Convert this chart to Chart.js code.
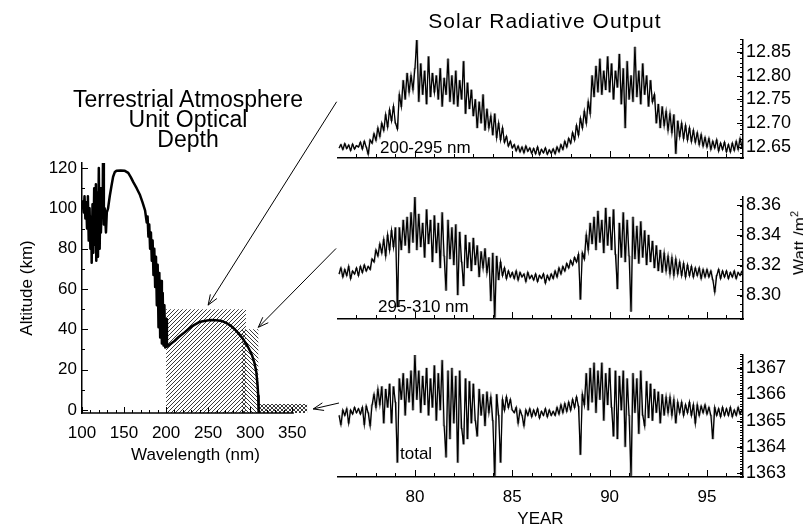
<!DOCTYPE html>
<html>
<head>
<meta charset="utf-8">
<script src="https://cdn.jsdelivr.net/npm/chart.js@4.4.0/dist/chart.umd.min.js"></script>
<style>
  body { margin: 0; background: #fff; }
  #wrap { position: relative; width: 803px; height: 525px; overflow: hidden;
          font-family: 'Liberation Sans', Arial, sans-serif; color: #000; }
  canvas { position: absolute; left: 0; top: 0; }
  .lbl { position: absolute; white-space: nowrap; }
</style>
</head>
<body>
<div id="wrap">
  <canvas id="cLeft" width="803" height="525"></canvas>
  <canvas id="cP1" width="803" height="525"></canvas>
  <canvas id="cP2" width="803" height="525"></canvas>
  <canvas id="cP3" width="803" height="525"></canvas>
  <canvas id="cArrows" width="803" height="525"></canvas>

  <div class="lbl" style="left:545px;top:10px;font-size:21px;line-height:21px;letter-spacing:1px;transform:translateX(-50%)">Solar Radiative Output</div>
  <div class="lbl" style="left:188px;top:89px;font-size:23px;line-height:20px;text-align:center;transform:translateX(-50%)">Terrestrial Atmosphere<br>Unit Optical<br>Depth</div>
  <div class="lbl" style="left:380px;top:139px;font-size:17px;line-height:17px">200-295 nm</div>
  <div class="lbl" style="left:378px;top:298px;font-size:17px;line-height:17px">295-310 nm</div>
  <div class="lbl" style="left:400px;top:445px;font-size:17px;line-height:17px">total</div>
  <div class="lbl" style="left:797px;top:243px;font-size:17px;line-height:17px;transform:translate(-50%,-50%) rotate(-90deg)">Watt /m<sup style="font-size:11px">2</sup></div>
</div>

<script>
// ---------------- data ----------------
var WAVE_TICKS = [100, 150, 200, 250, 300, 350];
var ALT_TICKS = [0, 20, 40, 60, 80, 100, 120];
var YEAR_TICKS = [80, 85, 90, 95];
var UV1_TICKS = [12.65, 12.70, 12.75, 12.80, 12.85];
var UV2_TICKS = [8.30, 8.32, 8.34, 8.36];
var TSI_TICKS = [1363, 1364, 1365, 1366, 1367];

// altitude of unit optical depth vs wavelength
var WAVE_NM = [100.5, 102, 103, 104, 105, 106, 107, 108, 109, 110, 111, 111.5, 112.5, 113.5, 114.5, 115.5,
  116.5, 117, 118, 119, 120, 121, 122, 122.5, 123.5, 124.5, 125, 126, 127, 128.5, 129.5,
  131, 133, 135, 137, 139, 141, 146, 151, 155, 158, 161, 165, 169, 172, 175,
  176, 177, 178, 179, 180, 181, 182, 183, 184, 185, 186, 187, 188, 189, 190, 191, 192, 193,
  194, 195, 196, 197, 198, 199, 200, 201,
  204, 210, 215, 220.6, 230, 240.5, 252.4, 260, 266.4, 271, 276.3, 281, 286.2, 291, 296.2,
  299, 302.1, 305, 307.3, 308.8, 309.6, 310, 310.2];
var ALT_KM = [104, 98, 106, 95, 103, 90, 106, 84, 100, 80, 96, 73, 102, 78, 110, 82,
  112, 74, 108, 76, 120, 80, 110, 88, 104, 96, 127, 92, 100, 88, 98,
  100, 106, 111, 115.7, 118, 118.6, 118.8, 118.6, 117.6, 115.5, 113, 110, 106.6, 103, 99,
  99, 93, 96, 86, 92, 80, 88, 74, 84, 67, 80, 61, 76, 52, 72, 41, 68, 36,
  64, 33, 58, 32, 52, 31, 45, 31.4,
  32.3, 34.2, 36.2, 38, 41.3, 43.8, 44.6, 44.5, 44.1, 43.3, 42, 40.3, 38, 35.5, 32.2,
  30, 27.3, 23.5, 19, 12.4, 7, 3.3, -1.5];

// hatched bands: [from nm, to nm, top km]
var BAND_UV1 = [200, 295, 50];
var BAND_UV2 = [290, 310, 40];
var BAND_TOTAL = [310, 368, 3];

// series sampled every 0.1 yr from 76.1
var YEAR_START = 76.1, YEAR_STEP = 0.1;

var UV1 = [
  12.648, 12.655, 12.645, 12.657, 12.647, 12.654, 12.643, 12.656, 12.646, 12.653,
  12.650, 12.660, 12.646, 12.662, 12.650, 12.635, 12.665, 12.658, 12.678, 12.664,
  12.690, 12.672, 12.700, 12.685, 12.718, 12.692, 12.728, 12.705, 12.735, 12.700,
  12.688, 12.760, 12.735, 12.790, 12.750, 12.805, 12.765, 12.800, 12.770, 12.815,
  12.878, 12.745, 12.825, 12.760, 12.810, 12.740, 12.840, 12.755, 12.805, 12.765,
  12.800, 12.750, 12.815, 12.735, 12.795, 12.760, 12.835, 12.745, 12.800, 12.740,
  12.810, 12.735, 12.790, 12.750, 12.830, 12.720, 12.785, 12.730, 12.770, 12.715,
  12.750, 12.690, 12.745, 12.700, 12.760, 12.685, 12.730, 12.690, 12.715, 12.675,
  12.720, 12.670, 12.700, 12.665, 12.690, 12.660, 12.672, 12.652, 12.662, 12.648,
  12.655, 12.642, 12.652, 12.640, 12.650, 12.638, 12.652, 12.641, 12.648, 12.637,
  12.647, 12.636, 12.650, 12.634, 12.645, 12.638, 12.648, 12.635, 12.644, 12.637,
  12.646, 12.636, 12.650, 12.640, 12.655, 12.645, 12.662, 12.650, 12.668, 12.658,
  12.680, 12.665, 12.695, 12.675, 12.710, 12.690, 12.725, 12.700, 12.745, 12.720,
  12.800, 12.755, 12.820, 12.765, 12.835, 12.760, 12.810, 12.770, 12.840, 12.765,
  12.825, 12.750, 12.810, 12.775, 12.845, 12.740, 12.815, 12.690, 12.830, 12.750,
  12.800, 12.745, 12.860, 12.755, 12.810, 12.740, 12.825, 12.760, 12.800, 12.735,
  12.790, 12.745, 12.760, 12.700, 12.740, 12.690, 12.735, 12.695, 12.725, 12.685,
  12.720, 12.680, 12.718, 12.636, 12.705, 12.672, 12.700, 12.668, 12.695, 12.665,
  12.690, 12.662, 12.685, 12.660, 12.680, 12.655, 12.676, 12.652, 12.670, 12.650,
  12.668, 12.645, 12.662, 12.648, 12.665, 12.642, 12.658, 12.645, 12.660, 12.640,
  12.655, 12.640, 12.658, 12.643, 12.662, 12.645, 12.668, 12.650
];

var UV2 = [
  8.314, 8.318, 8.312, 8.317, 8.313, 8.319, 8.311, 8.316, 8.314, 8.318,
  8.313, 8.319, 8.315, 8.320, 8.316, 8.319, 8.317, 8.324, 8.322, 8.330,
  8.326, 8.334, 8.328, 8.337, 8.326, 8.340, 8.330, 8.343, 8.332, 8.345,
  8.292, 8.345, 8.330, 8.350, 8.333, 8.352, 8.328, 8.355, 8.335, 8.366,
  8.330, 8.354, 8.332, 8.348, 8.325, 8.357, 8.334, 8.350, 8.322, 8.353,
  8.328, 8.348, 8.318, 8.355, 8.326, 8.303, 8.350, 8.324, 8.345, 8.320,
  8.347, 8.300, 8.342, 8.322, 8.306, 8.340, 8.318, 8.335, 8.316, 8.338,
  8.320, 8.333, 8.312, 8.329, 8.318, 8.331, 8.315, 8.325, 8.296, 8.328,
  8.285, 8.326, 8.310, 8.322, 8.313, 8.318, 8.311, 8.316, 8.312, 8.315,
  8.311, 8.316, 8.310, 8.315, 8.312, 8.314, 8.309, 8.315, 8.311, 8.313,
  8.310, 8.314, 8.309, 8.313, 8.311, 8.314, 8.308, 8.313, 8.310, 8.314,
  8.311, 8.316, 8.312, 8.318, 8.314, 8.319, 8.316, 8.321, 8.318, 8.323,
  8.320, 8.325, 8.322, 8.327, 8.297, 8.328, 8.324, 8.340, 8.330, 8.348,
  8.334, 8.352, 8.330, 8.356, 8.335, 8.350, 8.328, 8.358, 8.333, 8.352,
  8.330, 8.357, 8.327, 8.304, 8.348, 8.325, 8.355, 8.322, 8.350, 8.326,
  8.289, 8.352, 8.324, 8.346, 8.321, 8.349, 8.325, 8.343, 8.320, 8.340,
  8.322, 8.336, 8.318, 8.333, 8.316, 8.330, 8.315, 8.328, 8.316, 8.326,
  8.314, 8.325, 8.313, 8.324, 8.314, 8.322, 8.313, 8.321, 8.312, 8.320,
  8.313, 8.319, 8.312, 8.318, 8.313, 8.318, 8.311, 8.317, 8.312, 8.317,
  8.312, 8.316, 8.310, 8.302, 8.313, 8.317, 8.311, 8.316, 8.312, 8.316,
  8.311, 8.315, 8.312, 8.316, 8.311, 8.315, 8.313, 8.316
];

var TSI = [
  1365.2, 1364.85, 1365.4, 1365.2, 1365.45, 1364.9, 1365.4, 1365.25, 1365.5, 1365.3,
  1365.45, 1365.25, 1365.5, 1364.85, 1365.55, 1365.3, 1364.8, 1365.6, 1366.0, 1365.5,
  1366.2, 1365.6, 1366.3, 1364.9, 1366.2, 1365.5, 1366.4, 1364.9, 1366.3, 1365.7,
  1363.4, 1366.6, 1365.8, 1366.8, 1365.2, 1366.6, 1365.7, 1366.9, 1365.4, 1367.5,
  1365.8, 1366.9, 1365.3, 1366.7, 1365.6, 1367.0, 1365.2, 1366.6, 1365.5, 1367.1,
  1365.0, 1366.8, 1365.4, 1367.3, 1364.8, 1363.6, 1366.9, 1364.3, 1367.0, 1364.9,
  1366.7, 1363.4, 1366.9, 1364.7, 1364.1, 1366.6, 1364.3, 1366.5, 1364.9, 1366.4,
  1365.0, 1364.4, 1366.2, 1365.2, 1366.0, 1364.8, 1366.1, 1365.3, 1365.9, 1365.0,
  1362.9, 1366.0, 1365.2, 1363.4, 1365.8, 1365.4, 1365.9, 1365.5, 1365.8, 1365.4,
  1365.3, 1365.5, 1364.9, 1365.4, 1365.2, 1364.8, 1365.4, 1365.2, 1365.45, 1365.15,
  1365.4, 1365.2, 1365.45, 1365.1, 1365.35, 1365.2, 1365.45, 1365.15, 1365.4, 1365.2,
  1365.35, 1365.2, 1365.5, 1365.25, 1365.6, 1365.3, 1365.65, 1365.35, 1365.7, 1365.4,
  1365.8, 1365.5, 1365.9, 1365.55, 1363.7, 1366.0, 1365.6, 1366.8, 1365.4, 1367.0,
  1365.7, 1367.2, 1365.3, 1366.9, 1365.8, 1367.2, 1365.0, 1366.8, 1365.6, 1367.0,
  1365.5, 1364.4, 1366.9, 1364.3, 1366.7, 1365.4, 1366.9, 1364.0, 1366.6, 1365.2,
  1362.9, 1366.8, 1365.3, 1366.6, 1364.5, 1366.9, 1365.2, 1364.8, 1366.5, 1365.1,
  1366.4, 1365.0, 1366.2, 1365.3, 1366.1, 1364.9, 1366.0, 1365.2, 1365.9, 1365.3,
  1365.9, 1365.2, 1365.8, 1364.9, 1365.7, 1365.3, 1365.7, 1365.2, 1365.6, 1365.3,
  1365.7, 1365.2, 1365.6, 1364.9, 1365.6, 1365.2, 1365.55, 1365.3, 1365.6, 1365.25,
  1365.5, 1365.2, 1364.3, 1365.5, 1365.2, 1365.45, 1365.15, 1365.5, 1365.2, 1365.45,
  1365.2, 1365.5, 1365.15, 1365.4, 1365.2, 1365.5, 1365.25, 1365.4
];

// ---------------- helpers ----------------
Chart.defaults.font.family = "'Liberation Sans', Arial, sans-serif";
Chart.defaults.font.size = 17;
Chart.defaults.color = '#000';

var innerTicks = {
    id: 'innerTicks',
    afterDraw: function(chart, args, opts) {
        var ctx = chart.ctx, area = chart.chartArea;
        ctx.save();
        ctx.strokeStyle = '#000';
        ctx.lineWidth = 1;
        ctx.beginPath();
        (opts.marks || []).forEach(function(m) {
            var sc = chart.scales[m.axis];
            var n = Math.round((m.to - m.from) / m.step);
            for (var k = 0; k <= n; k++) {
                var p = Math.round(sc.getPixelForValue(m.from + k * m.step)) + 0.5;
                if (sc.position === 'bottom') { ctx.moveTo(p, area.bottom); ctx.lineTo(p, area.bottom - m.len); }
                else if (sc.position === 'left') { ctx.moveTo(area.left, p); ctx.lineTo(area.left + m.len, p); }
                else { ctx.moveTo(area.right, p); ctx.lineTo(area.right - m.len, p); }
            }
        });
        ctx.stroke();
        if (opts.baseLine) {
            var sx = chart.scales.x;
            ctx.lineWidth = 1.5;
            ctx.beginPath();
            ctx.moveTo(sx.getPixelForValue(opts.baseLine[0]), area.bottom);
            ctx.lineTo(sx.getPixelForValue(opts.baseLine[1]), area.bottom);
            ctx.stroke();
        }
        ctx.restore();
    }
};

function hatch(kind) {
    var s = 4, c = document.createElement('canvas');
    c.width = s; c.height = s;
    var g = c.getContext('2d');
    g.strokeStyle = '#222';
    g.lineWidth = 0.9;
    g.beginPath();
    if (kind === '/' || kind === 'x') {
        g.moveTo(-1, s + 1); g.lineTo(s + 1, -1);
    }
    if (kind === '\\' || kind === 'x') {
        g.moveTo(-1, -1); g.lineTo(s + 1, s + 1);
    }
    g.stroke();
    return g.createPattern(c, 'repeat');
}

function fixedTicks(list) {
    return function(s) { s.ticks = list.map(function(v) { return {value: v}; }); };
}

function bandSet(band, pattern) {
    return {
        data: [{x: band[0], y: band[2]}, {x: band[1], y: band[2]}],
        borderColor: 'rgba(0,0,0,0)', borderWidth: 0, pointRadius: 0,
        backgroundColor: pattern, fill: 'start'
    };
}

// ---------------- left: unit optical depth ----------------
var curve = WAVE_NM.map(function(w, i) { return {x: w, y: ALT_KM[i]}; });

var chartLeft = new Chart(document.getElementById('cLeft'), {
    type: 'line',
    data: {
        datasets: [
            {data: curve, borderColor: '#000', borderWidth: 2.5, pointRadius: 0, fill: false,
             borderJoinStyle: 'round', tension: 0},
            bandSet(BAND_UV1, hatch('/')),
            bandSet(BAND_UV2, hatch('\\')),
            bandSet(BAND_TOTAL, hatch('x'))
        ]
    },
    options: {
        responsive: false, animation: false, devicePixelRatio: 1,
        layout: {padding: {left: 17, right: 494, top: 163, bottom: 59}},
        plugins: {
            legend: {display: false}, tooltip: {enabled: false},
            innerTicks: {
                marks: [
                    {axis: 'x', from: 100, to: 350, step: 50, len: 6},
                    {axis: 'x', from: 100, to: 350, step: 10, len: 3},
                    {axis: 'y', from: 0, to: 120, step: 20, len: 6},
                    {axis: 'y', from: 0, to: 120, step: 10, len: 3}
                ],
                baseLine: [100, 352]
            }
        },
        scales: {
            x: {
                type: 'linear', min: 100, max: 370,
                afterBuildTicks: fixedTicks(WAVE_TICKS),
                afterFit: function(s) { s.height = 53; },
                grid: {display: false, drawTicks: false},
                border: {display: false},
                ticks: {padding: 10, autoSkip: false, maxRotation: 0},
                title: {display: true, text: 'Wavelength (nm)', padding: 0}
            },
            y: {
                type: 'linear', min: -1.5, max: 122.5,
                afterBuildTicks: fixedTicks(ALT_TICKS),
                afterFit: function(s) { s.width = 65; },
                grid: {display: false, drawTicks: false},
                border: {display: true, color: '#000', width: 1.5},
                ticks: {padding: 5},
                title: {display: true, text: 'Altitude (km)', padding: 0}
            }
        }
    },
    plugins: [innerTicks]
});

// ---------------- right: time series panels ----------------
function series(values) {
    return values.map(function(v, i) { return {x: YEAR_START + i * YEAR_STEP, y: v}; });
}

function panel(id, values, tickList, yMin, yMax, minorStep, fmt, pad, showX) {
    var pts = series(values);
    return new Chart(document.getElementById(id), {
        type: 'line',
        data: {
            datasets: [
                {data: pts, borderColor: '#000', borderWidth: 1.3,
                 pointRadius: 0, fill: false, tension: 0},
                // same samples as faint held steps, to darken the noisy band a little
                {data: pts, borderColor: 'rgba(0,0,0,0.4)', borderWidth: 1,
                 pointRadius: 0, fill: false, stepped: 'middle'}
            ]
        },
        options: {
            responsive: false, animation: false, devicePixelRatio: 1,
            layout: {padding: pad},
            plugins: {
                legend: {display: false}, tooltip: {enabled: false},
                innerTicks: {
                    marks: [
                        {axis: 'x', from: 80, to: 95, step: 5, len: 7},
                        {axis: 'x', from: 77, to: 96, step: 1, len: 4},
                        {axis: 'y', from: tickList[0], to: tickList[tickList.length - 1],
                         step: tickList[1] - tickList[0], len: 6},
                        {axis: 'y', from: yMin, to: yMax, step: minorStep, len: 3}
                    ]
                }
            },
            scales: {
                x: {
                    type: 'linear', min: 76.05, max: 96.85,
                    afterBuildTicks: fixedTicks(YEAR_TICKS),
                    afterFit: function(s) { s.height = showX ? 48 : 0; },
                    grid: {display: false, drawTicks: false},
                    border: {display: true, color: '#000', width: 1.5},
                    ticks: {display: showX, padding: 10, autoSkip: false, maxRotation: 0},
                    title: {display: showX, text: 'YEAR', padding: {top: 0, bottom: -3},
                            font: {lineHeight: 1.0}}
                },
                y: {
                    type: 'linear', position: 'right', min: yMin, max: yMax,
                    afterBuildTicks: fixedTicks(tickList),
                    afterFit: function(s) { s.width = 60; },
                    grid: {display: false, drawTicks: false},
                    border: {display: true, color: '#000', width: 1.5},
                    ticks: {padding: 3, font: {size: 18}, callback: fmt}
                }
            }
        },
        plugins: [innerTicks]
    });
}

function two(v) { return Number(v).toFixed(2); }
function whole(v) { return String(v); }

var chartP1 = panel('cP1', UV1, UV1_TICKS, 12.627, 12.8746, 0.01, two,
    {left: 338, right: 0, top: 40, bottom: 367}, false);
var chartP2 = panel('cP2', UV2, UV2_TICKS, 8.284, 8.3653, 0.005, two,
    {left: 338, right: 0, top: 197, bottom: 206}, false);
var chartP3 = panel('cP3', TSI, TSI_TICKS, 1362.85, 1367.5, 0.1, whole,
    {left: 338, right: 0, top: 355, bottom: 0}, true);

// ---------------- arrows from panels to bands ----------------
var ARROWS = [
    {chart: chartP1, from: [75.98, 12.745], to: [250, 52]},
    {chart: chartP2, from: [75.95, 8.331], to: [309.7, 41]},
    {chart: chartP3, from: [76.1, 1365.67], to: [375, 0.5]}
];

var actx = document.getElementById('cArrows').getContext('2d');
actx.strokeStyle = '#000';
actx.lineWidth = 1;
ARROWS.forEach(function(a) {
    var x0 = a.chart.scales.x.getPixelForValue(a.from[0]);
    var y0 = a.chart.scales.y.getPixelForValue(a.from[1]);
    var x1 = chartLeft.scales.x.getPixelForValue(a.to[0]);
    var y1 = chartLeft.scales.y.getPixelForValue(a.to[1]);
    var ang = Math.atan2(y1 - y0, x1 - x0), L = 11, w = 0.36;
    actx.beginPath();
    actx.moveTo(x0, y0);
    actx.lineTo(x1, y1);
    actx.moveTo(x1 - L * Math.cos(ang - w), y1 - L * Math.sin(ang - w));
    actx.lineTo(x1, y1);
    actx.lineTo(x1 - L * Math.cos(ang + w), y1 - L * Math.sin(ang + w));
    actx.stroke();
});
</script>
</body>
</html>
